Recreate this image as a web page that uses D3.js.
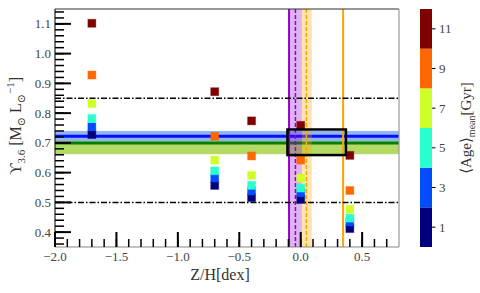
<!DOCTYPE html>
<meta charset="utf-8">
<style>
  body { margin: 0; background: #fff; }
</style>
<body>
<div id="viz"></div>
<script src="https://d3js.org/d3.v7.min.js"></script>
<script>
// metallicity of each model column, ages of the rows (Gyr)
var metallicity = [-1.7, -0.7, -0.4, 0.0, 0.4];
var ages = [1, 3, 5, 7, 9, 11];
// M/L at 3.6 micron, one row per age
var mlAge1  = [0.728, 0.557, 0.516, 0.510, 0.412];
var mlAge3  = [0.754, 0.582, 0.538, 0.532, 0.434];
var mlAge5  = [0.782, 0.606, 0.557, 0.548, 0.447];
var mlAge7  = [0.832, 0.642, 0.591, 0.582, 0.477];
var mlAge9  = [0.928, 0.722, 0.656, 0.642, 0.540];
var mlAge11 = [1.102, 0.872, 0.774, 0.759, 0.658];
var mlRows = [mlAge1, mlAge3, mlAge5, mlAge7, mlAge9, mlAge11];

// reference values
var refLines = [0.5, 0.85];
var blueBand = [0.706, 0.740], blueLine = 0.722;
var greenBand = [0.662, 0.706], greenLine = 0.700;
var purpleBand = [-0.10, 0.01], purpleSolid = -0.095, purpleDashed = -0.043;
var orangeBand = [0.01, 0.09], orangeDashed = 0.046, orangeSolid = 0.345;
var boxX = [-0.108, 0.368], boxY = [0.659, 0.745];

var xTicks = [-2.0, -1.5, -1.0, -0.5, 0.0, 0.5];
var yTicks = [0.4, 0.5, 0.6, 0.7, 0.8, 0.9, 1.0, 1.1];
var cbTicks = [1, 3, 5, 7, 9, 11];
var jet6 = ['#00007f', '#004cff', '#29ffce', '#ceff29', '#ff6800', '#7f0000'];

var W = 480, H = 293;
var L = 55, R = 399, T = 9, B = 247;
var FONT = "'Liberation Serif', 'DejaVu Serif', serif";

var x = d3.scaleLinear().domain([-2.0, 0.8]).range([L, R]);
var y = d3.scaleLinear().domain([0.35, 1.15]).range([B, T]);
var color = d3.scaleQuantize().domain([0, 12]).range(jet6);
var cbY = d3.scaleLinear().domain([0, 12]).range([B, T]);

var svg = d3.select('#viz').append('svg')
    .attr('width', W).attr('height', H)
    .style('font-family', FONT);

svg.append('clipPath').attr('id', 'clip')
  .append('rect').attr('x', L).attr('y', T).attr('width', R - L).attr('height', B - T);

var plot = svg.append('g').attr('clip-path', 'url(#clip)');

// horizontal bands
function hband(b, fill, op) {
  plot.append('rect')
    .attr('x', L).attr('width', R - L)
    .attr('y', y(b[1])).attr('height', y(b[0]) - y(b[1]))
    .attr('fill', fill).attr('opacity', op);
}
hband(greenBand, 'yellowgreen', 0.75);
hband(blueBand, 'cornflowerblue', 0.7);

function hline(v, stroke, w, dash) {
  plot.append('line')
    .attr('x1', L).attr('x2', R).attr('y1', y(v)).attr('y2', y(v))
    .attr('stroke', stroke).attr('stroke-width', w)
    .attr('stroke-dasharray', dash || null);
}
hline(blueLine, '#0010ff', 3);
hline(greenLine, 'green', 3);

// vertical bands
function vband(b, fill, op) {
  plot.append('rect')
    .attr('y', T).attr('height', B - T)
    .attr('x', x(b[0])).attr('width', x(b[1]) - x(b[0]))
    .attr('fill', fill).attr('opacity', op);
}
vband(purpleBand, 'darkviolet', 0.3);
vband(orangeBand, 'orange', 0.3);

function vline(v, stroke, w, dash) {
  plot.append('line')
    .attr('y1', T).attr('y2', B).attr('x1', x(v)).attr('x2', x(v))
    .attr('stroke', stroke).attr('stroke-width', w)
    .attr('stroke-dasharray', dash || null);
}
vline(purpleSolid, 'darkviolet', 2);
vline(purpleDashed, 'darkviolet', 1.5, '4,2');
vline(orangeDashed, 'orange', 1.5, '4,2');
vline(orangeSolid, 'orange', 2);

refLines.forEach(function(v) { hline(v, '#000', 1.5, '6,2,1.5,2'); });

// model squares
var pts = [];
mlRows.forEach(function(row, i) {
  row.forEach(function(v, j) {
    pts.push({z: metallicity[j], ml: v, age: ages[i]});
  });
});
var s = 8;
plot.selectAll('rect.pt').data(pts).enter().append('rect')
  .attr('class', 'pt')
  .attr('x', function(d) { return x(d.z) - s / 2; })
  .attr('y', function(d) { return y(d.ml) - s / 2; })
  .attr('width', s).attr('height', s)
  .attr('fill', function(d) { return color(d.age); })
  .attr('stroke', function(d) { return color(d.age); })
  .attr('stroke-opacity', 0.35).attr('stroke-width', 1);

// box
plot.append('rect')
  .attr('x', x(boxX[0])).attr('width', x(boxX[1]) - x(boxX[0]))
  .attr('y', y(boxY[1])).attr('height', y(boxY[0]) - y(boxY[1]))
  .attr('fill', 'none').attr('stroke', '#000').attr('stroke-width', 2.5);

// frame
svg.append('line').attr('x1', L).attr('x2', R).attr('y1', T).attr('y2', T).attr('stroke', '#333').attr('stroke-width', 1.2);
svg.append('line').attr('x1', R).attr('x2', R).attr('y1', T).attr('y2', B).attr('stroke', '#999').attr('stroke-width', 1.2);
svg.append('line').attr('x1', L).attr('x2', R).attr('y1', B).attr('y2', B).attr('stroke', '#888').attr('stroke-width', 1.2);
svg.append('line').attr('x1', L).attr('x2', L).attr('y1', T).attr('y2', B).attr('stroke', '#222').attr('stroke-width', 1.2);

// x axis (ticks inward)
var xMinor = d3.range(-19, 8).map(function(k) { return k / 10; });
var gx = svg.append('g');
gx.selectAll('line.mn').data(xMinor).enter().append('line')
  .attr('x1', function(d) { return x(d); }).attr('x2', function(d) { return x(d); })
  .attr('y1', B).attr('y2', B - 8).attr('stroke', '#000').attr('stroke-width', 1.5);
gx.selectAll('line.mj').data(xTicks).enter().append('line')
  .attr('x1', function(d) { return x(d); }).attr('x2', function(d) { return x(d); })
  .attr('y1', B).attr('y2', B - 15).attr('stroke', '#000').attr('stroke-width', 2);
gx.selectAll('text').data(xTicks).enter().append('text')
  .attr('x', function(d) { return x(d); }).attr('y', B + 14)
  .attr('text-anchor', 'middle').attr('font-size', 13).attr('fill', '#444')
  .text(function(d) { return d3.format('.1f')(d).replace('-', '\u2212'); });

// y axis (ticks inward)
var yMinor = d3.range(18, 58).map(function(k) { return k / 50; });
var gy = svg.append('g');
gy.selectAll('line.mn').data(yMinor).enter().append('line')
  .attr('y1', function(d) { return y(d); }).attr('y2', function(d) { return y(d); })
  .attr('x1', L).attr('x2', L + 9).attr('stroke', '#000').attr('stroke-width', 1.5);
gy.selectAll('line.mj').data(yTicks).enter().append('line')
  .attr('y1', function(d) { return y(d); }).attr('y2', function(d) { return y(d); })
  .attr('x1', L).attr('x2', L + 16).attr('stroke', '#000').attr('stroke-width', 2);
gy.selectAll('text').data(yTicks).enter().append('text')
  .attr('x', L - 4).attr('y', function(d) { return y(d); })
  .attr('dy', '0.35em').attr('text-anchor', 'end').attr('font-size', 13).attr('fill', '#444')
  .text(function(d) { return d3.format('.1f')(d); });

// axis labels
svg.append('text')
  .attr('x', (L + R) / 2 - 7).attr('y', 280)
  .attr('text-anchor', 'middle').attr('font-size', 16).attr('fill', '#333')
  .text('Z/H[dex]');

var yl = svg.append('text')
  .attr('transform', 'translate(21,' + 126 + ') rotate(-90)')
  .attr('text-anchor', 'middle').attr('font-size', 16).attr('fill', '#333');
yl.append('tspan').text('\u03d2');
yl.append('tspan').attr('font-size', 11).attr('dy', 4).text('3.6');
yl.append('tspan').attr('dy', -4).text(' [M');
yl.append('tspan').attr('font-size', 11).attr('dy', 4).text('\u2299');
yl.append('tspan').attr('dy', -4).text(' L');
yl.append('tspan').attr('font-size', 11).attr('dy', 4).text('\u2299');
yl.append('tspan').attr('font-size', 11).attr('dy', -11).text('\u22121');
yl.append('tspan').attr('dy', 7).text(']');

// colorbar
var cbX = 420, cbW = 12;
var cb = svg.append('g');
cb.selectAll('rect').data(d3.range(6)).enter().append('rect')
  .attr('x', cbX).attr('width', cbW)
  .attr('y', function(d) { return cbY(d * 2 + 2); })
  .attr('height', function(d) { return cbY(d * 2) - cbY(d * 2 + 2); })
  .attr('fill', function(d) { return jet6[d]; });
cb.selectAll('line').data(cbTicks).enter().append('line')
  .attr('x1', cbX + cbW).attr('x2', cbX + cbW + 3.5)
  .attr('y1', function(d) { return cbY(d); }).attr('y2', function(d) { return cbY(d); })
  .attr('stroke', '#000').attr('stroke-width', 1);
cb.selectAll('text').data(cbTicks).enter().append('text')
  .attr('x', cbX + cbW + 7).attr('y', function(d) { return cbY(d); })
  .attr('dy', '0.35em').attr('font-size', 13).attr('fill', '#444')
  .text(function(d) { return d; });

var cl = svg.append('text')
  .attr('transform', 'translate(471,' + 128 + ') rotate(-90)')
  .attr('text-anchor', 'middle').attr('font-size', 15).attr('fill', '#333');
cl.append('tspan').text('\u27e8Age\u27e9');
cl.append('tspan').attr('font-size', 10).attr('dy', 4).text('mean');
cl.append('tspan').attr('dy', -4).text('[Gyr]');
</script>
</body>
